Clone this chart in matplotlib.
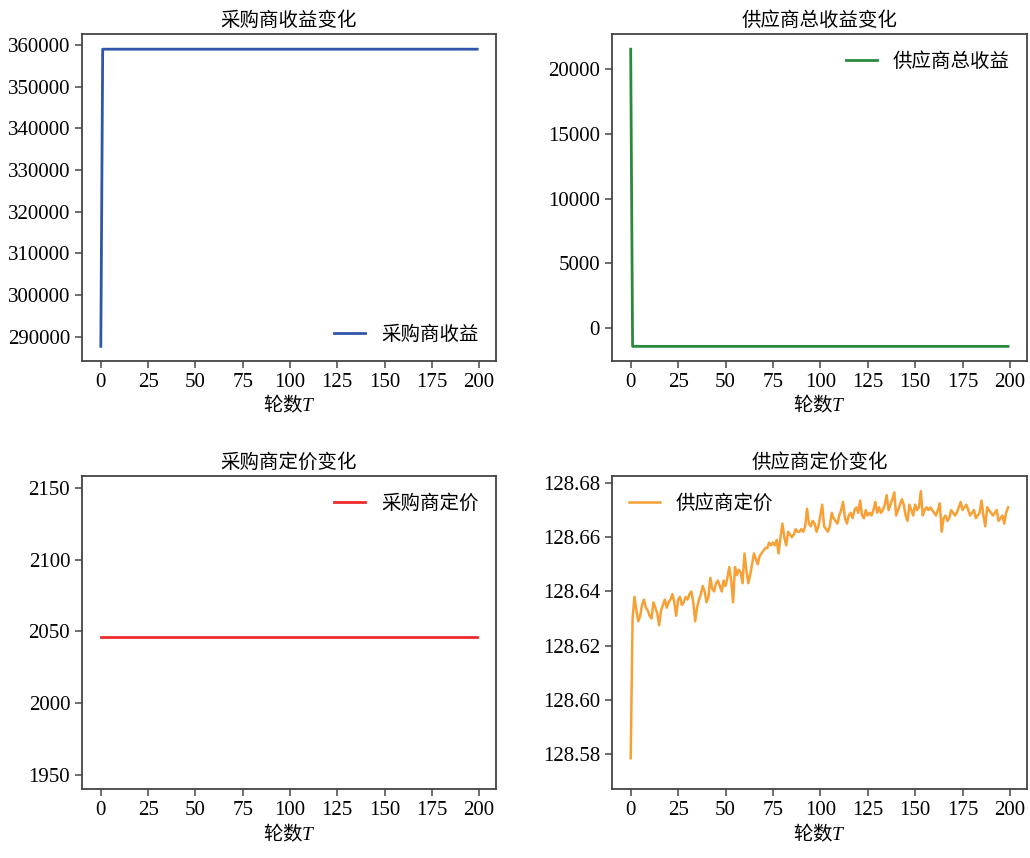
import matplotlib
matplotlib.use('Agg')
import matplotlib.pyplot as plt
from matplotlib.ticker import FormatStrFormatter

plt.rcParams['font.family'] = ['Liberation Serif', 'Noto Sans CJK SC', 'DejaVu Sans']
plt.rcParams['mathtext.fontset'] = 'custom'
plt.rcParams['mathtext.rm'] = 'Noto Sans CJK SC'
plt.rcParams['mathtext.it'] = 'Liberation Serif:italic'
plt.rcParams['axes.unicode_minus'] = False

# 数据
rounds = list(range(200))
buyer_profit = [287700] + [359000] * 199
supplier_profit = [21550] + [-1400] * 199
buyer_price = [2046] * 200
supplier_price = [
    128.5785, 128.630, 128.638, 128.633, 128.629, 128.631, 128.635, 128.637, 128.634, 128.633,
    128.631, 128.630, 128.636, 128.634, 128.632, 128.6275, 128.633, 128.635, 128.637, 128.634,
    128.636, 128.637, 128.639, 128.636, 128.631, 128.637, 128.638, 128.635, 128.636, 128.638,
    128.637, 128.639, 128.640, 128.636, 128.629, 128.634, 128.637, 128.639, 128.642, 128.640,
    128.636, 128.638, 128.645, 128.641, 128.640, 128.643, 128.644, 128.642, 128.640, 128.644,
    128.642, 128.645, 128.649, 128.644, 128.636, 128.649, 128.646, 128.648, 128.647, 128.643,
    128.654, 128.648, 128.643, 128.646, 128.650, 128.654, 128.652, 128.650, 128.653, 128.654,
    128.655, 128.656, 128.656, 128.658, 128.657, 128.658, 128.657, 128.659, 128.654, 128.660,
    128.665, 128.660, 128.657, 128.662, 128.661, 128.660, 128.661, 128.663, 128.662, 128.662,
    128.663, 128.662, 128.664, 128.6705, 128.665, 128.664, 128.666, 128.665, 128.662, 128.664,
    128.668, 128.672, 128.664, 128.663, 128.662, 128.664, 128.669, 128.667, 128.666, 128.665,
    128.668, 128.670, 128.673, 128.667, 128.665, 128.668, 128.669, 128.667, 128.670, 128.671,
    128.669, 128.6735, 128.668, 128.667, 128.670, 128.668, 128.669, 128.668, 128.670, 128.673,
    128.669, 128.671, 128.669, 128.670, 128.672, 128.6755, 128.670, 128.672, 128.674, 128.6765,
    128.668, 128.670, 128.672, 128.674, 128.672, 128.668, 128.666, 128.672, 128.670, 128.668,
    128.672, 128.670, 128.671, 128.677, 128.668, 128.670, 128.671, 128.670, 128.671, 128.670,
    128.669, 128.668, 128.670, 128.6725, 128.662, 128.667, 128.668, 128.666, 128.667, 128.670,
    128.669, 128.668, 128.669, 128.671, 128.673, 128.670, 128.671, 128.672, 128.670, 128.668,
    128.669, 128.670, 128.667, 128.668, 128.669, 128.6735, 128.668, 128.664, 128.671, 128.670,
    128.669, 128.668, 128.669, 128.670, 128.666, 128.667, 128.668, 128.665, 128.669, 128.671,
]
profit_ticks = list(range(290000, 360001, 10000))

fig = plt.figure(figsize=(10.3, 8.58), dpi=100)
ax1 = fig.add_axes([0.0796, 0.579, 0.402, 0.381])
ax2 = fig.add_axes([0.594, 0.579, 0.403, 0.381])
ax3 = fig.add_axes([0.0796, 0.080, 0.402, 0.365])
ax4 = fig.add_axes([0.594, 0.080, 0.403, 0.365])

ax1.plot(rounds, buyer_profit, color='#2f56a8', lw=2, label='采购商收益')
ax1.set_title('采购商收益变化', fontsize=14)
ax1.set_yticks(profit_ticks)
ax1.legend(loc='lower right', frameon=False, fontsize=14, handlelength=1.6)

ax2.plot(rounds, supplier_profit, color='#2a8a3c', lw=2, label='供应商总收益')
ax2.set_title('供应商总收益变化', fontsize=14)
ax2.legend(loc='upper right', frameon=False, fontsize=14, handlelength=1.6)

ax3.plot(rounds, buyer_price, color='#ee2a2a', lw=2, label='采购商定价')
ax3.set_title('采购商定价变化', fontsize=14)
ax3.set_ylim(1940, 2158)
ax3.legend(loc='upper right', frameon=False, fontsize=14, handlelength=1.6)

ax4.plot(rounds, supplier_price, color='#f7a035', lw=1.8, label='供应商定价')
ax4.set_title('供应商定价变化', fontsize=14)
ax4.set_ylim(128.567, 128.6825)
ax4.yaxis.set_major_formatter(FormatStrFormatter('%.2f'))
ax4.legend(loc='upper left', frameon=False, fontsize=14, handlelength=1.6)

for ax in [ax1, ax2, ax3, ax4]:
    ax.set_xticks(range(0, 201, 25))
    ax.set_xlabel(r'$\mathrm{轮数}T$', fontsize=14, labelpad=1)
    ax.tick_params(labelsize=15, length=5, width=1.2, color='#555555')
    for s in ax.spines.values():
        s.set_color('#444444')
        s.set_linewidth(1.3)

fig.savefig('out.png', dpi=100)
